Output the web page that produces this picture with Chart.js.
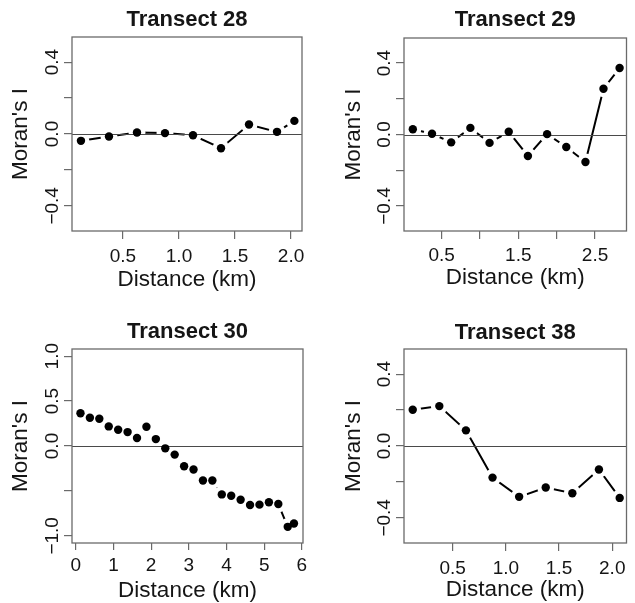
<!DOCTYPE html>
<html>
<head>
<meta charset="utf-8">
<script src="https://cdn.jsdelivr.net/npm/chart.js@4.4.1/dist/chart.umd.min.js"></script>
<style>
  html, body { margin: 0; padding: 0; background: #fff; overflow: hidden; }
  .panel { position: absolute; }
</style>
</head>
<body>
<div class="panel" style="left:0;top:0;width:318px;height:300px"><canvas id="c28"></canvas></div>
<div class="panel" style="left:318px;top:0;width:317px;height:300px"><canvas id="c29"></canvas></div>
<div class="panel" style="left:0;top:300px;width:318px;height:303px"><canvas id="c30"></canvas></div>
<div class="panel" style="left:318px;top:300px;width:317px;height:303px"><canvas id="c38"></canvas></div>
<script>
// values (distance class in km, Moran's I)
const t28Dist  = [0.125, 0.375, 0.625, 0.875, 1.125, 1.375, 1.625, 1.875, 2.03];
const t28Moran = [-0.038, -0.014, 0.008, 0.005, -0.007, -0.079, 0.053, 0.012, 0.073];

const t29Dist  = [0.125, 0.375, 0.625, 0.875, 1.125, 1.375, 1.625, 1.875, 2.125, 2.375, 2.61, 2.82];
const t29Moran = [0.029, 0.004, -0.044, 0.037, -0.047, 0.015, -0.12, 0.002, -0.07, -0.154, 0.256, 0.372];

const t30Dist  = [0.125, 0.375, 0.625, 0.875, 1.125, 1.375, 1.625, 1.875, 2.125, 2.375, 2.625, 2.875,
                  3.125, 3.375, 3.625, 3.875, 4.125, 4.375, 4.625, 4.875, 5.125, 5.375, 5.625, 5.79];
const t30Moran = [0.365, 0.314, 0.303, 0.218, 0.181, 0.155, 0.089, 0.214, 0.077, -0.026, -0.096, -0.225,
                  -0.262, -0.384, -0.384, -0.539, -0.554, -0.598, -0.657, -0.653, -0.627, -0.646, -0.9, -0.863];

const t38Dist  = [0.125, 0.375, 0.625, 0.875, 1.125, 1.375, 1.625, 1.875, 2.07];
const t38Moran = [0.202, 0.222, 0.087, -0.176, -0.283, -0.231, -0.263, -0.131, -0.289];

// tick positions and their labels ('' = tick mark only, as R drops crowded labels)
const xTicks2km   = [0.5, 1, 1.5, 2];
const xLabels2km  = ['0.5', '1.0', '1.5', '2.0'];
const xTicks29    = [0.5, 1, 1.5, 2, 2.5];
const xLabels29   = ['0.5', '', '1.5', '', '2.5'];
const xTicks30    = [0, 1, 2, 3, 4, 5, 6];
const xLabels30   = ['0', '1', '2', '3', '4', '5', '6'];
const yTicksSmall  = [-0.4, -0.2, 0, 0.2, 0.4];
const yLabelsSmall = ['\u22120.4', '', '0.0', '', '0.4'];
const yTicks30     = [-1, -0.5, 0, 0.5, 1];
const yLabels30    = ['\u22121.0', '', '0.0', '0.5', '1.0'];

const FONT = "'Liberation Sans', Arial, Helvetica, sans-serif";
const INK = '#151515';
const AXIS = '#6a6a6a';

const framePlugin = {
  id: 'frame',
  afterDatasetDraw(chart, args) {
    if (args.index !== 1) return; // zero line goes over the white halos, under the dots
    const { ctx, chartArea: a, scales: { y } } = chart;
    const y0 = Math.round(y.getPixelForValue(0)) + 0.5;
    ctx.save();
    ctx.strokeStyle = '#4a4a4a';
    ctx.lineWidth = 1;
    ctx.beginPath();
    ctx.moveTo(a.left, y0);
    ctx.lineTo(a.right, y0);
    ctx.stroke();
    ctx.restore();
  },
  afterDraw(chart, args, opts) {
    const { ctx, chartArea: a, scales: { y } } = chart;
    ctx.save();
    ctx.strokeStyle = AXIS;
    ctx.lineWidth = 1.3;
    ctx.strokeRect(a.left, a.top, a.right - a.left, a.bottom - a.top);

    ctx.fillStyle = INK;
    ctx.font = 'bold 22px ' + FONT;
    ctx.textAlign = 'center';
    ctx.textBaseline = 'middle';
    ctx.fillText(opts.title, (a.left + a.right) / 2, a.top - opts.titleGap);

    ctx.font = '19px ' + FONT;
    opts.yTicks.forEach((v, i) => {
      const lbl = opts.yLabels[i];
      if (!lbl) return;
      ctx.save();
      ctx.translate(a.left - 20, y.getPixelForValue(v));
      ctx.rotate(-Math.PI / 2);
      ctx.fillText(lbl, 0, 1);
      ctx.restore();
    });
    ctx.restore();
  }
};

function panel(id, p) {
  const pts = p.dist.map((d, i) => ({ x: d, y: p.moran[i] }));
  new Chart(document.getElementById(id), {
    type: 'line',
    data: {
      datasets: [
        { data: pts, borderColor: '#000', borderWidth: 2, pointRadius: 0, order: 3 },
        { data: pts, showLine: false, pointRadius: 8.5, pointBackgroundColor: '#fff', pointBorderWidth: 0, order: 2 },
        { data: pts, showLine: false, pointRadius: 4.2, pointBackgroundColor: '#000', pointBorderWidth: 0, order: 1 }
      ]
    },
    options: {
      responsive: true,
      maintainAspectRatio: false,
      animation: false,
      events: [],
      layout: { padding: { top: p.top, right: p.right, left: 0, bottom: 0 } },
      plugins: {
        legend: { display: false },
        tooltip: { enabled: false },
        frame: { title: p.title, titleGap: p.titleGap, yTicks: p.yTicks, yLabels: p.yLabels }
      },
      scales: {
        x: {
          type: 'linear',
          min: p.xMin,
          max: p.xMax,
          afterBuildTicks: s => { s.ticks = p.xTicks.map(v => ({ value: v })); },
          afterFit: s => { s.height = p.xH; },
          grid: { drawOnChartArea: false, tickLength: p.xTickLen, color: AXIS, lineWidth: 1.2 },
          border: { display: false },
          ticks: {
            autoSkip: false, maxRotation: 0, padding: p.xPad,
            color: INK, font: { family: FONT, size: 19 },
            callback: (v, i) => p.xLabels[i]
          },
          title: {
            display: true, text: 'Distance (km)', color: INK,
            font: { family: FONT, size: 22.5, lineHeight: 1 },
            padding: { top: 0, bottom: p.xTitlePad }
          }
        },
        y: {
          min: p.yMin,
          max: p.yMax,
          afterBuildTicks: s => { s.ticks = p.yTicks.map(v => ({ value: v })); },
          afterFit: s => { s.width = p.yW; },
          grid: { drawOnChartArea: false, tickLength: 8, color: AXIS, lineWidth: 1.2 },
          border: { display: false },
          ticks: { display: false },
          title: {
            display: true, text: "Moran's I", color: INK,
            font: { family: FONT, size: 22.5, lineHeight: 1 },
            padding: { top: p.yTitlePad, bottom: 0 }
          }
        }
      }
    },
    plugins: [framePlugin]
  });
}

panel('c28', {
  title: 'Transect 28', dist: t28Dist, moran: t28Moran,
  xMin: 0.045, xMax: 2.098, yMin: -0.54, yMax: 0.54,
  xTicks: xTicks2km, xLabels: xLabels2km, yTicks: yTicksSmall, yLabels: yLabelsSmall,
  top: 37, right: 16, yW: 72, xH: 69, xTickLen: 8, xPad: 6, xTitlePad: 9, yTitlePad: 10, titleGap: 17
});
panel('c29', {
  title: 'Transect 29', dist: t29Dist, moran: t29Moran,
  xMin: 0.01, xMax: 2.91, yMin: -0.54, yMax: 0.54,
  xTicks: xTicks29, xLabels: xLabels29, yTicks: yTicksSmall, yLabels: yLabelsSmall,
  top: 38, right: 1, yW: 86, xH: 69, xTickLen: 8, xPad: 5, xTitlePad: 11, yTitlePad: 25, titleGap: 18
});
panel('c30', {
  title: 'Transect 30', dist: t30Dist, moran: t30Moran,
  xMin: -0.1, xMax: 6.03, yMin: -1.08, yMax: 1.08,
  xTicks: xTicks30, xLabels: xLabels30, yTicks: yTicks30, yLabels: yLabels30,
  top: 49, right: 15, yW: 72, xH: 60, xTickLen: 7, xPad: 4, xTitlePad: 1, yTitlePad: 10, titleGap: 17
});
panel('c38', {
  title: 'Transect 38', dist: t38Dist, moran: t38Moran,
  xMin: 0.043, xMax: 2.134, yMin: -0.54, yMax: 0.54,
  xTicks: xTicks2km, xLabels: xLabels2km, yTicks: yTicksSmall, yLabels: yLabelsSmall,
  top: 49, right: 1, yW: 86, xH: 60, xTickLen: 8, xPad: 6, xTitlePad: 2, yTitlePad: 25, titleGap: 16
});
</script>
</body>
</html>
